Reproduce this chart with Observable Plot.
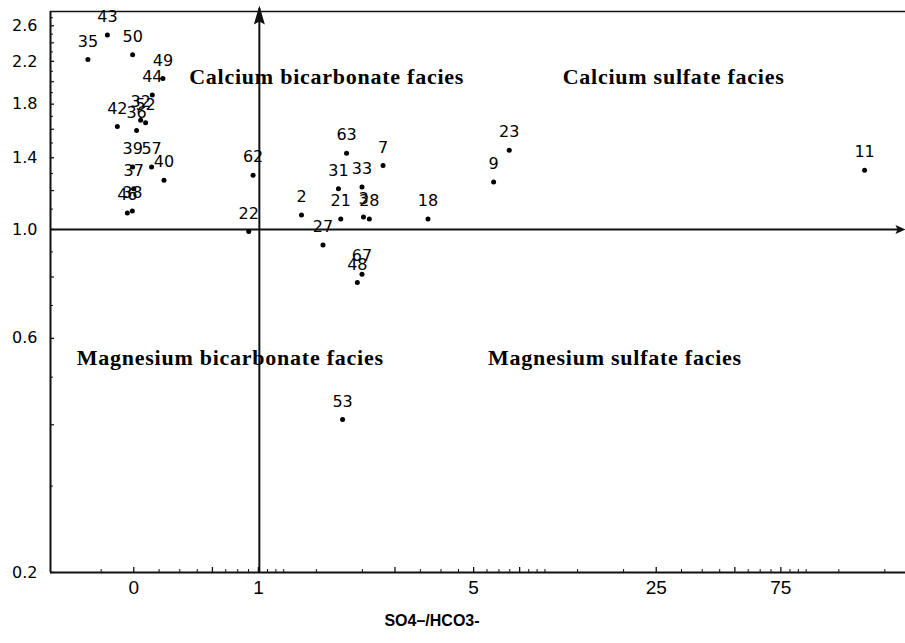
<!DOCTYPE html>
<html>
<head>
<meta charset="utf-8">
<script src="https://cdn.jsdelivr.net/npm/d3@7"></script>
<script src="https://cdn.jsdelivr.net/npm/@observablehq/plot@0.6"></script>
<style>
  body { margin: 0; background: #fff; }
</style>
</head>
<body>
<div id="chart"></div>
<script>
// ---- data ----
const sampleIds = ["43","35","50","49","44","42","36","32","52","39","57","40","37","46","38",
  "62","22","2","27","21","31","63","33","3","28","7","18","67","48","53","9","23","11"];
const so4hco3 = [0.317,0.267,0.396,0.517,0.471,0.346,0.410,0.425,0.444,0.396,0.468,0.522,0.400,0.378,0.395,
  1.145,1.102,1.754,2.12,2.48,2.43,2.61,2.99,3.03,3.19,3.60,5.35,2.99,2.87,2.52,9.54,10.95,251];
const caMg = [2.49,2.22,2.27,2.03,1.88,1.62,1.59,1.67,1.65,1.34,1.34,1.26,1.21,1.08,1.09,
  1.29,0.99,1.07,0.93,1.05,1.21,1.43,1.22,1.06,1.05,1.35,1.05,0.81,0.78,0.41,1.25,1.45,1.32];

const xTickVals = [0.4, 1.2, 8, 40, 120];
const xTickLabels = ["0", "1", "5", "25", "75"];
const xMajorTicks = [0.4, 0.8, 1.2, 4, 8, 12, 40, 80, 120];
const xMinorTicks = [0.3,0.5,0.6,0.7,0.9,1,1.1,1.3,1.4,1.5,2,3,5,6,7,9,10,11,13,14,15,
  20,30,50,60,70,90,100,110,130,140,150,200,300];

const yTickVals = [0.2, 0.6, 1.0, 1.4, 1.8, 2.2, 2.6];
const yTickLabels = ["0.2", "0.6", "1.0", "1.4", "1.8", "2.2", "2.6"];
const yMidTicks = [0.4, 0.8, 1.2, 1.6, 2.0, 2.4];
const yMinorTicks = [0.3,0.5,0.7,0.9,1.1,1.3,1.5,1.7,1.9,2.1,2.3,2.5,2.7];

const quadrantNames = ["Calcium bicarbonate facies", "Calcium sulfate facies",
  "Magnesium bicarbonate facies", "Magnesium sulfate facies"];
const quadrantX = [2.19, 46.6, 0.936, 27.8];
const quadrantY = [2.045, 2.045, 0.548, 0.548];

const xDivider = 1.21;
const yDivider = 1.0;
const xDomain = [0.192, 360];
const yDomain = [0.2, 2.78];
const xTitle = "SO4–/HCO3-";

// ---- tables ----
const points = sampleIds.map((id, i) => ({id, x: so4hco3[i], y: caMg[i]}));
const quadrants = quadrantNames.map((t, i) => ({t, x: quadrantX[i], y: quadrantY[i]}));

const W = 905, H = 643, mT = 11, mB = 71, mL = 50, mR = 0;
const FH = H - mT - mB, FW = W - mL - mR;

const arrowUp = {draw(ctx) { ctx.moveTo(0, -6); ctx.lineTo(5.5, 13); ctx.lineTo(0, 10); ctx.lineTo(-5.5, 13); ctx.closePath(); }};
const arrowRight = {draw(ctx) { ctx.moveTo(0, 0); ctx.lineTo(-10, -4.5); ctx.lineTo(-8, 0); ctx.lineTo(-10, 4.5); ctx.closePath(); }};

const ink = "#111";

const chart = Plot.plot({
  width: W, height: H,
  marginTop: mT, marginBottom: mB, marginLeft: mL, marginRight: mR,
  x: {type: "log", domain: xDomain, axis: null},
  y: {type: "log", domain: yDomain, axis: null},
  style: {background: "white", fontFamily: "Liberation Sans, Arial, sans-serif", color: "#000", overflow: "visible"},
  marks: [
    // ticks (inward)
    Plot.ruleX(xMinorTicks, {x: d => d, insetTop: FH - 3, stroke: ink, strokeWidth: 1}),
    Plot.ruleX(xMajorTicks, {x: d => d, insetTop: FH - 5, stroke: ink, strokeWidth: 1.3}),
    Plot.ruleY(yMinorTicks, {y: d => d, insetRight: FW - 3, stroke: ink, strokeWidth: 1}),
    Plot.ruleY(yMidTicks, {y: d => d, insetRight: FW - 4, stroke: ink, strokeWidth: 1.2}),
    Plot.ruleY(yTickVals, {y: d => d, insetRight: FW - 4, stroke: ink, strokeWidth: 1.3}),
    // frame: left, top, bottom
    Plot.ruleY([yDomain[0]], {y: d => d, stroke: ink, strokeWidth: 2}),
    Plot.ruleY([yDomain[1]], {y: d => d, stroke: ink, strokeWidth: 1.6}),
    Plot.ruleX([xDomain[0]], {x: d => d, stroke: ink, strokeWidth: 2}),
    // dividers with arrows
    Plot.ruleY([yDivider], {y: d => d, insetRight: 4, stroke: ink, strokeWidth: 2}),
    Plot.ruleX([xDivider], {x: d => d, insetTop: -3, stroke: ink, strokeWidth: 2}),
    Plot.dot([yDivider], {y: d => d, frameAnchor: "right", symbol: arrowRight, fill: ink, stroke: "none"}),
    Plot.dot([xDivider], {x: d => d, frameAnchor: "top", symbol: arrowUp, fill: ink, stroke: "none"}),
    // tick labels
    Plot.text(yTickVals, {y: d => d, text: (d, i) => yTickLabels[i], frameAnchor: "left", dx: -13,
      textAnchor: "end", fontSize: 16, fontFamily: "DejaVu Sans, sans-serif", fill: "#000"}),
    Plot.text(xTickVals, {x: d => d, text: (d, i) => xTickLabels[i], frameAnchor: "bottom", dy: 21,
      fontSize: 19, fill: "#000"}),
    Plot.text([xTitle], {text: d => d, frameAnchor: "bottom", dy: 53, dx: -46,
      fontSize: 16, fontWeight: "bold", fill: "#000"}),
    // quadrant names
    Plot.text(quadrants, {x: "x", y: "y", text: "t", fontFamily: "Liberation Serif, Times New Roman, serif",
      fontWeight: "bold", fontSize: 22, fill: "#000"}),
    // samples
    Plot.dot(points, {x: "x", y: "y", r: 2.5, fill: "#000", stroke: "none"}),
    Plot.text(points, {x: "x", y: "y", text: "id", dy: -18, fontSize: 16,
      fontFamily: "DejaVu Sans, sans-serif", fill: "#000"})
  ]
});
d3.select(chart).selectAll("text")
  .filter(function() { return quadrantNames.includes(this.textContent); })
  .attr("letter-spacing", "0.75px");
document.getElementById("chart").appendChild(chart);
</script>
</body>
</html>
